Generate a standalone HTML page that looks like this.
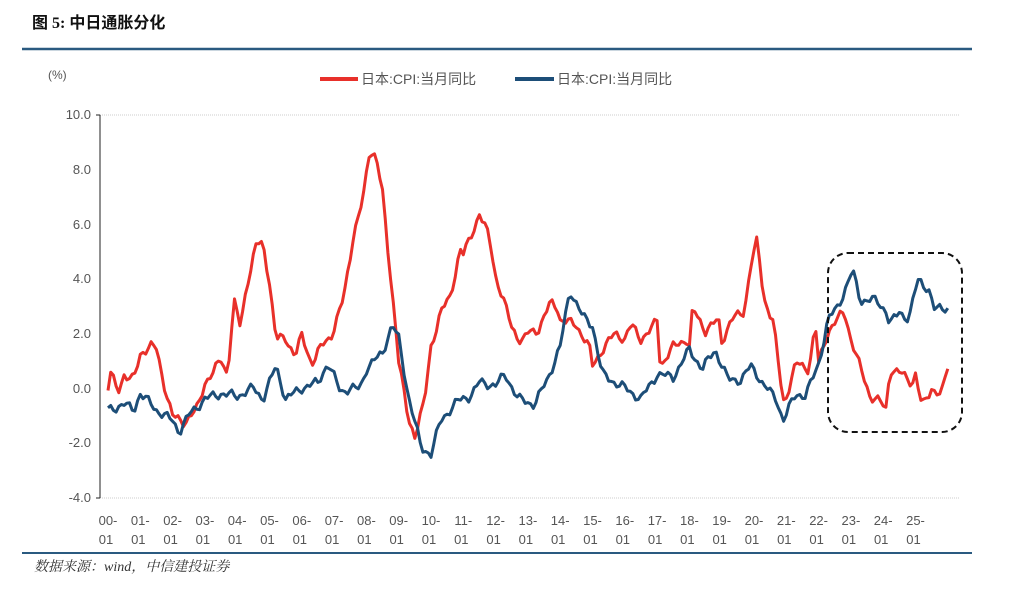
<!DOCTYPE html>
<html><head><meta charset="utf-8"><style>
body{margin:0;background:#fff;width:1024px;height:588px;overflow:hidden;font-family:"Liberation Sans","Noto Sans CJK SC",sans-serif}
</style></head><body>
<svg width="1024" height="588" viewBox="0 0 1024 588" xmlns="http://www.w3.org/2000/svg" font-family="Liberation Sans, Noto Sans CJK SC, sans-serif">
<text x="32" y="28" font-size="16" font-weight="bold" fill="#111" font-family="Liberation Serif, Noto Sans CJK SC, serif">图 5: 中日通胀分化</text>
<line x1="22" y1="49" x2="972" y2="49" stroke="#2a5a80" stroke-width="2.5"/>
<text x="48" y="79" font-size="12" fill="#555">(%)</text>
<line x1="320" y1="79" x2="358" y2="79" stroke="#e8302a" stroke-width="4"/>
<text x="361" y="84" font-size="14" fill="#555">日本:CPI:当月同比</text>
<line x1="515" y1="79" x2="554" y2="79" stroke="#1d4e78" stroke-width="4"/>
<text x="557" y="84" font-size="14" fill="#555">日本:CPI:当月同比</text>
<g font-size="13" fill="#555" text-anchor="end">
<text x="91" y="119">10.0</text><text x="91" y="174">8.0</text><text x="91" y="229">6.0</text><text x="91" y="283">4.0</text><text x="91" y="338">2.0</text><text x="91" y="393">0.0</text><text x="91" y="447">-2.0</text><text x="91" y="502">-4.0</text>
</g>
<line x1="100" y1="115" x2="960" y2="115" stroke="#ccc" stroke-dasharray="1,1"/>
<line x1="100" y1="498" x2="960" y2="498" stroke="#ccc" stroke-dasharray="1,1"/>
<line x1="100" y1="115" x2="100" y2="498" stroke="#222"/>
<g id="ticks" stroke="#222"></g>
<g id="xl" font-size="13" fill="#555" text-anchor="middle"></g>
<polyline id="red" fill="none" stroke="#e8302a" stroke-width="3" stroke-linejoin="round"/>
<polyline id="blue" fill="none" stroke="#1d4e78" stroke-width="3" stroke-linejoin="round"/>
<rect x="828" y="253" width="134" height="179" rx="20" fill="none" stroke="#111" stroke-width="2" stroke-dasharray="6,4"/>
<line x1="22" y1="553" x2="972" y2="553" stroke="#2a5a80" stroke-width="2"/>
<text x="34" y="571" font-size="14" font-style="italic" fill="#333" font-family="Liberation Serif, Noto Serif CJK SC, serif">数据来源：wind，中信建投证券</text>
</svg>
<script>
var X=function(t){return 108+32.3*(t-2000)},Y=function(v){return 388-27.36*v};
var xl=document.getElementById('xl'),tk=document.getElementById('ticks'),ns='http://www.w3.org/2000/svg';
for(var i=0;i<26;i++){var x=X(2000+i),a=('0'+i).slice(-2);
var t=document.createElementNS(ns,'text');t.setAttribute('x',x);t.setAttribute('y',525);t.textContent=a+'-';xl.appendChild(t);
t=document.createElementNS(ns,'text');t.setAttribute('x',x-2);t.setAttribute('y',544);t.textContent='01';xl.appendChild(t);}
tk.innerHTML='<line x1="96" y1="115" x2="100" y2="115"/><line x1="96" y1="498" x2="100" y2="498"/>';
var R=[2000,0,2000.05,0.7,2000.3,-0.2,2000.5,0.5,2000.8,0.3,2001,1.2,2001.3,1.6,2001.5,1.4,2001.7,0.3,2002,-1.0,2002.3,-1.3,2002.8,-0.7,2003,0.2,2003.5,1.0,2003.7,0.5,2003.9,3.2,2004.1,2.2,2004.3,3.8,2004.6,5.3,2004.8,5.2,2005,3.9,2005.2,1.8,2005.5,1.8,2005.8,1.2,2006,1.9,2006.3,0.9,2006.6,1.5,2006.9,1.9,2007,2.2,2007.3,3.3,2007.6,5.6,2007.9,6.9,2008.1,8.7,2008.3,8.5,2008.5,7.1,2008.7,4.6,2008.9,2.4,2009,1.0,2009.3,-1.2,2009.5,-1.7,2009.8,-0.5,2010,1.5,2010.3,2.8,2010.6,3.3,2010.9,5.1,2011,4.9,2011.2,5.4,2011.5,6.4,2011.8,5.5,2012,4.1,2012.3,3.0,2012.5,2.2,2012.8,1.7,2013,2.0,2013.3,2.1,2013.7,3.1,2013.9,3.0,2014,2.5,2014.5,2.3,2014.9,1.5,2015,0.8,2015.3,1.4,2015.7,2.0,2016,1.8,2016.2,2.3,2016.5,1.8,2016.8,2.1,2017,2.5,2017.1,0.8,2017.5,1.5,2017.9,1.8,2018,1.5,2018.1,2.9,2018.5,2.1,2018.9,2.5,2019,1.7,2019.3,2.5,2019.7,2.8,2019.9,4.5,2020.1,5.4,2020.3,3.3,2020.6,2.4,2020.9,-0.5,2021,-0.3,2021.3,0.9,2021.7,0.7,2021.9,2.3,2022,0.9,2022.3,2.1,2022.8,2.8,2023,1.8,2023.3,0.7,2023.6,-0.3,2023.9,-0.5,2024.1,-0.8,2024.2,0.7,2024.6,0.5,2024.9,0.2,2025,0.5,2025.2,-0.7,2025.5,0.0,2025.8,-0.3,2026,0.8];
var B=[2000,-0.8,2000.5,-0.6,2000.8,-0.8,2001,-0.2,2001.5,-0.8,2002,-1.2,2002.2,-1.6,2002.5,-1.0,2003,-0.4,2003.5,-0.2,2004,-0.3,2004.5,0.0,2004.8,-0.4,2005.2,0.8,2005.5,-0.4,2006,0.0,2006.5,0.2,2006.8,0.9,2007.2,-0.1,2007.8,0.0,2008,0.7,2008.5,1.3,2008.8,2.3,2009,1.8,2009.3,-0.3,2009.7,-2.2,2010,-2.4,2010.3,-1.2,2010.8,-0.5,2011.2,-0.3,2011.5,0.2,2012,0.1,2012.3,0.5,2012.7,-0.4,2013.2,-0.6,2013.6,0.3,2014,1.5,2014.3,3.6,2014.7,2.6,2015,2.3,2015.3,0.5,2015.7,0.2,2016,0.0,2016.5,-0.4,2017,0.5,2017.5,0.4,2018,1.4,2018.4,0.7,2018.8,1.4,2019.2,0.3,2019.6,0.3,2019.9,0.8,2020.1,0.5,2020.3,0.1,2020.7,-0.4,2020.9,-1.2,2021.3,-0.2,2021.6,-0.3,2022,0.9,2022.3,2.5,2022.6,3.0,2022.9,3.8,2023.05,4.3,2023.3,3.2,2023.8,3.2,2024.1,2.8,2024.2,2.3,2024.5,2.8,2024.8,2.5,2025,3.6,2025.1,4.0,2025.4,3.6,2025.6,2.8,2025.8,3.0,2026,2.9];
function build(d,id,seed){var p=[];for(var t=2000;t<=2026.001;t+=1/12){var j=0;while(j<d.length-4&&d[j+2]<t)j+=2;var f=(t-d[j])/(d[j+2]-d[j]);f=Math.max(0,Math.min(1,f));var v=d[j+1]+(d[j+3]-d[j+1])*f;v+=0.2*Math.sin(t*97.3+seed)*Math.sin(t*31.7);p.push(X(t).toFixed(1)+','+Y(v).toFixed(1));}
document.getElementById(id).setAttribute('points',p.join(' '));}
build(R,'red',1);build(B,'blue',5);
</script>
</body></html>
